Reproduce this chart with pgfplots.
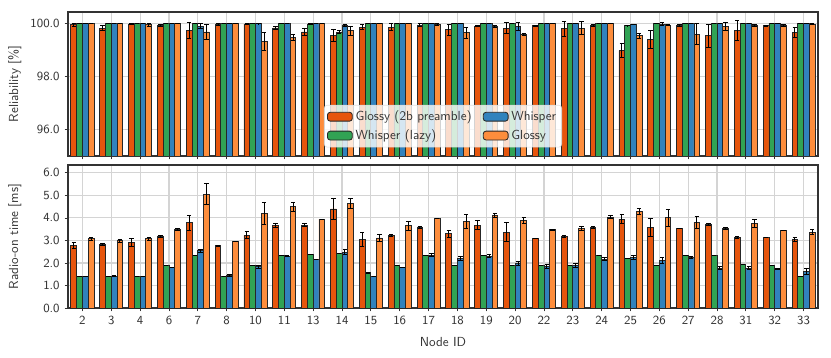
\documentclass[border=0pt]{standalone}
\usepackage{pgfplots}
\usepackage{pgfplotstable}
\pgfplotsset{compat=1.18}
\renewcommand{\familydefault}{\sfdefault}
\definecolor{cR}{HTML}{E6550D}
\definecolor{cG}{HTML}{31A354}
\definecolor{cB}{HTML}{3182BD}
\definecolor{cO}{HTML}{FD8D3C}
\definecolor{txt}{HTML}{333333}

\pgfplotstableread{
x r re g ge b be o oe
0 99.94 0.05 100 0 100 0 100 0
1 99.81 0.10 100 0 100 0 100 0
2 99.96 0.02 100 0 100 0 99.94 0.05
3 99.90 0.04 100 0 100 0 100 0
4 99.74 0.30 100 0 99.89 0.08 99.67 0.28
5 99.96 0.03 100 0 100 0 100 0
6 99.96 0.01 100 0 99.98 0.01 99.32 0.33
7 99.82 0.06 100 0 100 0 99.46 0.10
8 99.67 0.13 99.97 0.01 100 0 100 0
9 99.55 0.23 99.66 0.05 99.92 0.04 99.71 0.17
10 99.85 0.10 100 0 100 0 100 0
11 99.85 0.13 100 0 100 0 100 0
12 99.92 0.05 100 0 99.99 0.01 99.94 0.03
13 99.75 0.20 100 0 99.99 0.01 99.64 0.20
14 99.89 0.03 100 0 99.99 0.01 99.87 0.05
15 99.81 0.20 100 0 99.89 0.15 99.58 0.03
16 99.91 0.02 100 0 100 0 100 0
17 99.79 0.28 100 0 100 0 99.81 0.25
18 99.91 0.04 100 0 99.99 0.01 100 0
19 98.97 0.26 99.91 0.01 99.95 0.01 99.52 0.10
20 99.38 0.35 100 0 99.96 0.05 99.92 0.02
21 99.91 0.05 100 0 100 0 99.58 0.40
22 99.52 0.43 100 0 100 0 99.86 0.15
23 99.72 0.37 100 0 100 0 99.91 0.05
24 99.90 0.02 100 0 100 0 99.91 0.05
25 99.65 0.20 100 0 100 0 99.97 0.01
}\rel

\pgfplotstableread{
x r re g ge b be o oe
0 2.77 0.12 1.42 0 1.39 0 3.07 0.07
1 2.81 0.05 1.42 0 1.42 0.03 2.99 0.06
2 2.90 0.17 1.42 0 1.39 0 3.07 0.06
3 3.17 0.06 1.87 0 1.80 0.02 3.49 0.06
4 3.79 0.33 2.35 0 2.54 0.07 5.06 0.45
5 2.77 0.02 1.42 0 1.45 0.05 2.95 0
6 3.23 0.15 1.87 0 1.83 0.08 4.19 0.50
7 3.67 0.10 2.35 0 2.29 0.02 4.50 0.20
8 3.68 0.08 2.39 0 2.14 0 3.95 0
9 4.40 0.46 2.44 0 2.48 0.10 4.64 0.22
10 3.04 0.30 1.56 0.02 1.41 0 3.11 0.15
11 3.22 0.04 1.87 0 1.81 0 3.65 0.20
12 3.58 0.03 2.32 0 2.35 0.08 3.99 0
13 3.29 0.15 1.87 0 2.20 0.07 3.85 0.30
14 3.67 0.20 2.32 0 2.30 0.06 4.11 0.10
15 3.37 0.42 1.87 0 1.98 0.08 3.89 0.13
16 3.10 0 1.87 0 1.84 0.10 3.47 0.03
17 3.16 0.05 1.87 0 1.90 0.08 3.53 0.07
18 3.59 0.05 2.32 0 2.17 0.06 4.03 0.06
19 3.95 0.20 2.18 0 2.24 0.10 4.28 0.12
20 3.58 0.40 1.90 0 2.11 0.15 4.01 0.38
21 3.53 0 2.32 0 2.24 0.03 3.80 0.28
22 3.71 0.05 2.32 0 1.77 0.08 3.53 0.05
23 3.13 0.06 1.92 0 1.77 0.06 3.74 0.18
24 3.13 0 1.87 0 1.72 0.03 3.44 0
25 3.04 0.10 1.42 0 1.62 0.12 3.37 0.10
}\rot

\pgfplotsset{
  mybase/.style={
    scale only axis, width=7.5in,
    xmin=-0.5, xmax=25.5, xtick={0,...,25},
    ybar, bar width=0.2,
    grid=major, grid style={line width=0.8pt, color=black!17},
    axis line style={txt, line width=0.8pt},
    tick align=outside, tick pos=left, major tick length=2.5pt,
    tick style={txt, line width=0.6pt},
    ticklabel style={font=\fontsize{9}{11}\selectfont, text=txt},
    label style={font=\fontsize{9.5}{11}\selectfont, text=txt},
    yticklabel style={/pgf/number format/.cd, fixed, fixed zerofill, precision=1, assume math mode=true},
    ylabel style={at={(axis description cs:-0.071,0.5)}, anchor=center},
    every axis plot/.append style={draw=black!85, line width=0.6pt},
    error bars/error bar style={black, line width=0.7pt},
    error bars/error mark options={rotate=90, black, mark size=1.6pt, line width=0.7pt},
  },
}

\begin{document}
\begin{tikzpicture}
\useasboundingbox (-0.68in,0.12in) rectangle (7.63in,-3.45in);
\begin{axis}[mybase, name=top, at={(0,0)}, anchor=north west,
  height=1.44in, ymin=95, ymax=100.42, ytick={96,98,100},
  xticklabels={},
  ylabel={Reliability [\%]},
  legend columns=2, transpose legend, legend cell align=left,
  legend image code/.code={\draw[#1, fill opacity=1, draw opacity=1] (0pt,-3.2pt) rectangle (18pt,3.2pt);},
  legend style={at={(axis description cs:0.5,0.06)}, anchor=south,
    fill=white, fill opacity=0.8, draw opacity=0.8, text opacity=1, draw=black!15,
    rounded corners=2pt, font=\fontsize{9.5}{11}\selectfont, text=txt,
    /tikz/every even column/.append style={column sep=6pt},
    inner sep=2pt, row sep=1pt},
]
\addplot[fill=cR, bar shift=-0.3, error bars/.cd, y dir=both, y explicit] table[x=x, y=r, y error=re] {\rel};
\addplot[fill=cG, bar shift=-0.1, error bars/.cd, y dir=both, y explicit] table[x=x, y=g, y error=ge] {\rel};
\addplot[fill=cB, bar shift=0.1, error bars/.cd, y dir=both, y explicit] table[x=x, y=b, y error=be] {\rel};
\addplot[fill=cO, bar shift=0.3, error bars/.cd, y dir=both, y explicit] table[x=x, y=o, y error=oe] {\rel};
\legend{Glossy (2b preamble), Whisper (lazy), Whisper, Glossy}
\end{axis}
\begin{axis}[mybase, name=bot, at={(0,-1.53in)}, anchor=north west,
  height=1.43in, ymin=0, ymax=6.35, ytick={0,1,2,3,4,5,6},
  xticklabels={2,3,4,6,7,8,10,11,13,14,15,16,17,18,19,20,22,23,24,25,26,27,28,31,32,33},
  xticklabel style={/pgf/number format/assume math mode=true},
  ylabel={Radio-on time [ms]},
  xlabel={Node ID},
  xlabel style={at={(axis description cs:0.5,-0.238)}, anchor=center},
]
\addplot[fill=cR, bar shift=-0.3, error bars/.cd, y dir=both, y explicit] table[x=x, y=r, y error=re] {\rot};
\addplot[fill=cG, bar shift=-0.1, error bars/.cd, y dir=both, y explicit] table[x=x, y=g, y error=ge] {\rot};
\addplot[fill=cB, bar shift=0.1, error bars/.cd, y dir=both, y explicit] table[x=x, y=b, y error=be] {\rot};
\addplot[fill=cO, bar shift=0.3, error bars/.cd, y dir=both, y explicit] table[x=x, y=o, y error=oe] {\rot};
\end{axis}
\end{tikzpicture}
\end{document}
